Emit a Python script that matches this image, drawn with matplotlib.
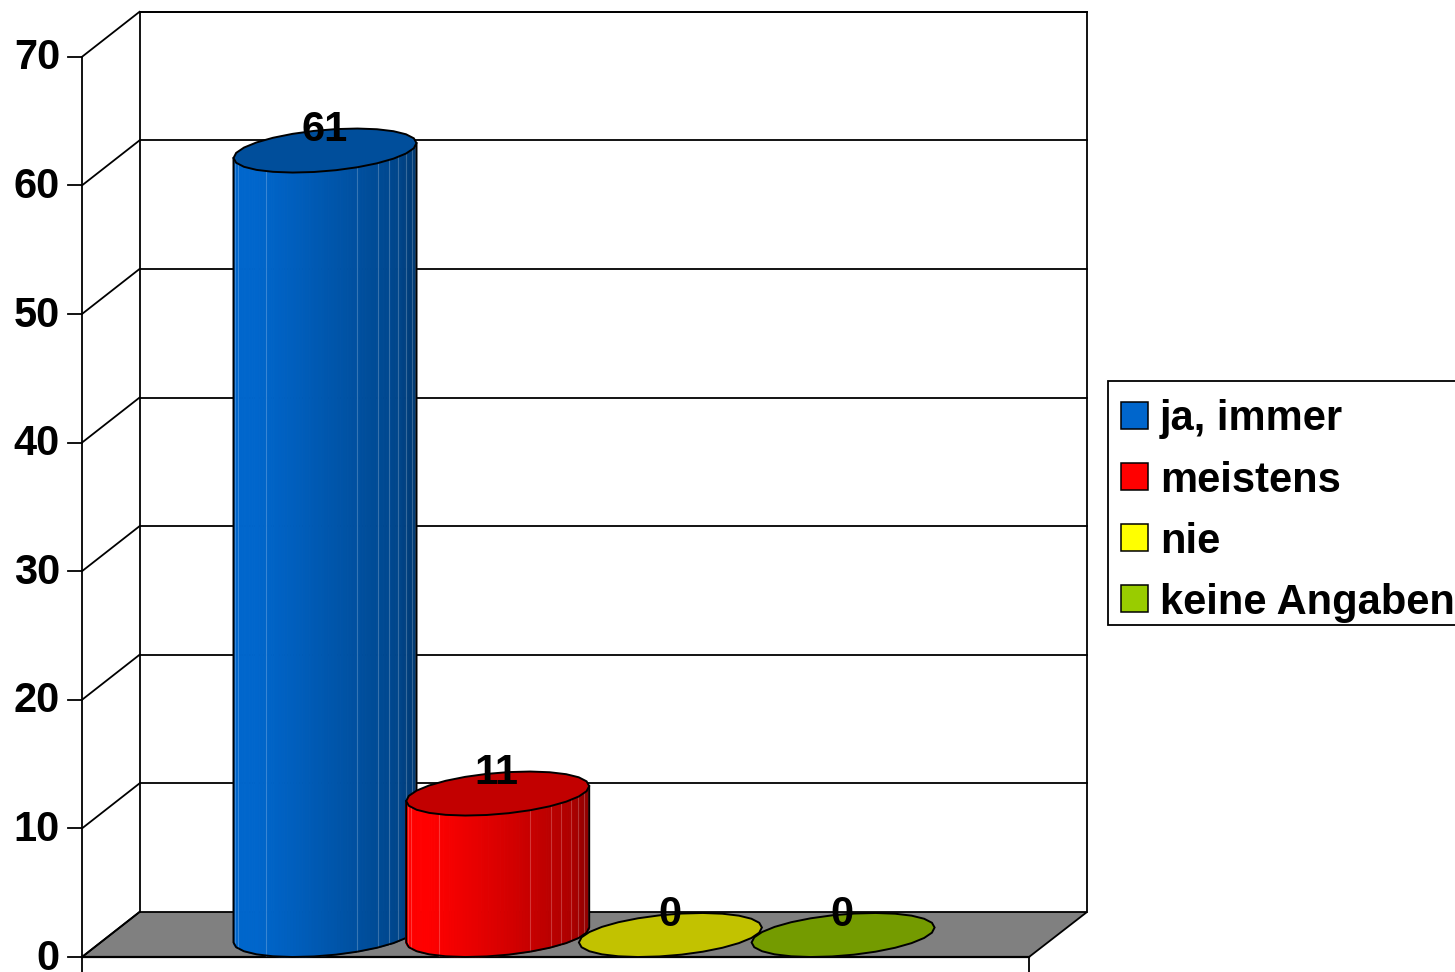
import numpy as np
import matplotlib
matplotlib.use("Agg")
import matplotlib.pyplot as plt
from matplotlib.patches import Polygon, Rectangle
from matplotlib.colors import to_rgb

categories = ['ja, immer', 'meistens', 'nie', 'keine Angaben']
values = [61, 11, 0, 0]
colors = ['#0066CC', '#FF0000', '#FFFF00', '#99CC00']
y_ticks = [0, 10, 20, 30, 40, 50, 60, 70]

plt.rcParams['font.family'] = ['Liberation Sans', 'DejaVu Sans']
W, H = 1455, 972
fig = plt.figure(figsize=(W / 100, H / 100), dpi=100)

# pixel axes for the frame, legend and text
bg = fig.add_axes([0, 0, 1, 1])
bg.set_xlim(0, W)
bg.set_ylim(H, 0)
bg.axis('off')

# scale of the chart
Y0 = 957
PX_PER_UNIT = 12.86
X0 = 325
PX_PER_CAT = 172.7
DX, DY = 57.5, 45
FONT = 30


def ypx(v):
    return Y0 - PX_PER_UNIT * v


LINE = 1.3
bg.add_patch(Polygon([(82, Y0), (82 + DX, Y0 - DY), (1087, Y0 - DY), (1029, Y0)],
                     fc='#808080', ec='black', lw=LINE, zorder=1))
bg.plot([82 + DX, 82 + DX], [ypx(70) - DY, Y0 - DY], color='black', lw=LINE, zorder=2)
bg.plot([1087, 1087], [ypx(70) - DY, Y0 - DY], color='black', lw=LINE, zorder=2)
bg.plot([82 + DX, 1087], [ypx(70) - DY, ypx(70) - DY], color='black', lw=LINE, zorder=2)
bg.plot([82, 82], [ypx(70), 972], color='black', lw=LINE, zorder=2)
bg.plot([1029, 1029], [Y0, 972], color='black', lw=LINE, zorder=2)
bg.plot([82, 1029], [Y0, Y0], color='black', lw=LINE + 0.3, zorder=2)
for v in y_ticks:
    y = ypx(v)
    bg.plot([68, 82], [y, y], color='black', lw=LINE, zorder=2)
    bg.plot([82, 82 + DX], [y, y - DY], color='black', lw=LINE, zorder=2)
    if v > 0:
        bg.plot([82 + DX, 1087], [y - DY, y - DY], color='black', lw=LINE, zorder=2)
    bg.text(60, y + 1.5, str(v), ha='right', va='center', fontsize=FONT, fontweight='bold')

# bars in data coordinates
ax = fig.add_axes([0, 0, 1, 1])
ax.patch.set_alpha(0)
ax.axis('off')
ax.set_xlim(-X0 / PX_PER_CAT, (W - X0) / PX_PER_CAT)
ax.set_ylim((Y0 - H) / PX_PER_UNIT, Y0 / PX_PER_UNIT)

HW = 91.5 / PX_PER_CAT
TILT = 7.5 / PX_PER_UNIT
MINOR = 20.7 / PX_PER_UNIT
DEPTH = 22 / PX_PER_UNIT
FACETS = np.radians([170, 162, 130, 69.5, 54.5, 46, 37, 28, 19, 10])


def ellipse(i, base, t):
    x = i + HW * np.cos(t)
    # t from 0 to pi runs round the front, the near edge is lower on screen
    y = base + DEPTH + TILT * np.cos(t) - MINOR * np.sin(t)
    return x, y


for i, (val, col) in enumerate(zip(values, colors)):
    rgb = np.array(to_rgb(col))
    if val > 0:
        t = np.linspace(np.pi, 0, 91)
        xb, yb = ellipse(i, 0, t)
        xt, yt = ellipse(i, val, t)
        for k in range(len(t) - 1):
            frac = (np.cos(t[k]) + 1) / 2
            shade = 1.0 - 0.42 * max(frac - 0.12, 0) ** 1.1
            if frac > 0.9:
                shade -= 0.8 * (frac - 0.9)
            ax.fill([xb[k], xb[k + 1], xt[k + 1], xt[k]],
                    [yb[k], yb[k + 1], yt[k + 1], yt[k]],
                    color=rgb * shade, lw=0.8, zorder=10 + i)
        for f in FACETS:
            xf0, yf0 = ellipse(i, 0, f)
            xf1, yf1 = ellipse(i, val, f)
            ax.plot([xf0, xf1], [yf0, yf1], color='white', alpha=0.22, lw=0.8, zorder=10 + i)
        # coarse outline round the base, like the caps
        ts = np.linspace(np.pi, 0, 14)
        xo, yo = ellipse(i, 0, ts)
        ax.plot(np.r_[xt[0], xo, xt[-1]], np.r_[yt[0], yo, yt[-1]],
                color='black', lw=1.4, zorder=10 + i)
    # top cap, a coarse polygon like the source renderer
    tc = np.linspace(0, 2 * np.pi, 27)
    xc, yc = ellipse(i, val, tc)
    ax.add_patch(Polygon(np.c_[xc, yc], closed=True, fc=rgb * 0.76, ec='black',
                         lw=1.4, zorder=10.5 + i))
    ax.text(i - 0.005, val + DEPTH + MINOR - 0.05, str(val), ha='center', va='center',
            fontsize=FONT, fontweight='bold', zorder=30)

# legend
bg.add_patch(Rectangle((1107.5, 381), 360, 244, fc='white', ec='black', lw=LINE, zorder=3))
sw_y = [402, 463, 524, 585]
base_y = [430, 492, 553, 614]
for name, col, sy, by in zip(categories, colors, sw_y, base_y):
    bg.add_patch(Rectangle((1121, sy), 26.5, 26.5, fc=col, ec='black', lw=LINE - 0.2, zorder=4))
    bg.text(1160, by, name, ha='left', va='baseline', fontsize=FONT, fontweight='bold', zorder=4)

fig.savefig('out.png', dpi=100)
